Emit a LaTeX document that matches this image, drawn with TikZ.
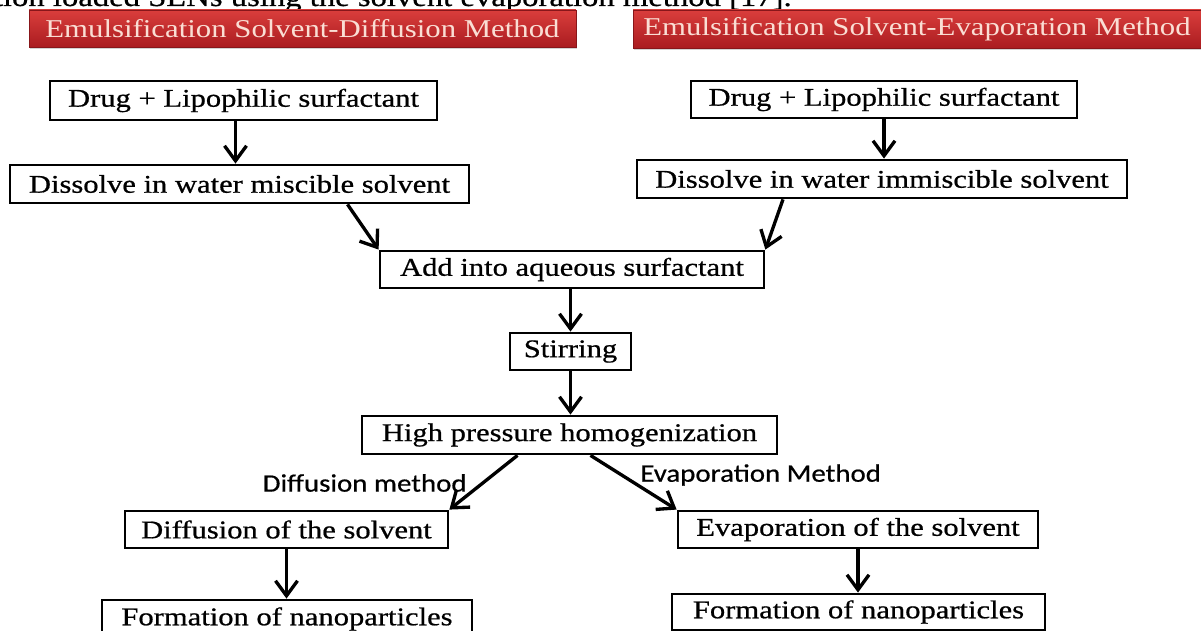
\documentclass[tikz,border=0pt]{standalone}
\usepackage{fontspec}
\setmainfont{Liberation Serif}
\newfontfamily\boxfont[FakeStretch=1.2, FakeBold=0.7]{Liberation Serif}
\newfontfamily\headfont[FakeStretch=1.2]{Liberation Serif}
\newfontfamily\lblfont[FakeStretch=1.15, FakeBold=0.6]{Carlito}
\usetikzlibrary{arrows.meta, calc, shadows}

\definecolor{headtop}{RGB}{218,62,60}
\definecolor{headbot}{RGB}{170,28,32}
\definecolor{headtext}{RGB}{250,222,212}

\tikzset{
    flowbox/.style={draw, line width=1.6pt, fill=white, inner sep=0pt,
        font=\boxfont\fontsize{14.5}{17}\selectfont},
    headbox/.style={top color=headtop, bottom color=headbot, draw=headbot!80!black,
        line width=0.4pt, inner sep=0pt, text=headtext,
        font=\headfont\fontsize{14.6}{17}\selectfont,
        drop shadow={shadow xshift=0.6pt, shadow yshift=-1.2pt, opacity=0.35}},
    flowarrow/.style={->, line width=1.9pt},
    methodlabel/.style={font=\lblfont\fontsize{14.3}{16}\selectfont, inner sep=0pt}
}

\begin{document}
\begin{tikzpicture}[
    % one unit = one pixel of the 1201 x 631 layout, y grows downwards
    x={(0.02cm,0cm)},
    y={(0cm,-0.02cm)},
    >={Straight Barb[length=3mm, width=4.4mm]}
]
    \path[use as bounding box] (0,0) rectangle (1201,631);

    % --- Caption line cut by the top edge ---
    \begin{scope}
        \clip (0,0) rectangle (1201,631);
        \node[anchor=base east, inner sep=0pt, font=\boxfont\fontsize{15.5}{18}\selectfont]
            (caption) at (792,6) {ation loaded SLNs using the solvent evaporation method [17].};
    \end{scope}

    % --- Method headings ---
    \node[headbox, minimum width=10.94cm, minimum height=0.74cm] (headDiff) at (302.5,28.5)
        {Emulsification Solvent-Diffusion Method};
    \node[headbox, minimum width=11.36cm, minimum height=0.76cm] (headEvap) at (917,29)
        {Emulsification Solvent-Evaporation Method};

    % --- Steps ---
    \node[flowbox, minimum width=7.74cm, minimum height=0.78cm] (drugL) at (243.5,100.5) {Drug + Lipophilic surfactant};
    \node[flowbox, minimum width=9.18cm, minimum height=0.76cm] (dissolveL) at (239.5,184) {Dissolve in water miscible solvent};
    \node[flowbox, minimum width=7.72cm, minimum height=0.74cm] (drugR) at (884,99.5) {Drug + Lipophilic surfactant};
    \node[flowbox, minimum width=9.8cm, minimum height=0.76cm] (dissolveR) at (882,179) {Dissolve in water immiscible solvent};
    \node[flowbox, minimum width=7.68cm, minimum height=0.74cm] (aqueous) at (572,269.5) {Add into aqueous surfactant};
    \node[flowbox, minimum width=2.42cm, minimum height=0.74cm] (stirring) at (570.5,351.5) {Stirring};
    \node[flowbox, minimum width=8.3cm, minimum height=0.76cm] (homog) at (569.5,435) {High pressure homogenization};
    \node[flowbox, minimum width=6.46cm, minimum height=0.74cm] (diffSolv) at (286.5,529.5) {Diffusion of the solvent};
    \node[flowbox, minimum width=7.2cm, minimum height=0.74cm] (evapSolv) at (858,529.5) {Evaporation of the solvent};
    \node[flowbox, minimum width=7.4cm, minimum height=0.76cm] (nanoL) at (287,619) {Formation of nanoparticles};
    \node[flowbox, minimum width=7.46cm, minimum height=0.72cm] (nanoR) at (858.5,612) {Formation of nanoparticles};

    % --- Branch labels ---
    \node[methodlabel, anchor=east] (lblDiff) at (467,483) {Diffusion method};
    \node[methodlabel, anchor=west] (lblEvap) at (640,475) {Evaporation Method};

    % --- Arrows ---
    \draw[flowarrow] ($(drugL.south)+(-8,0)$) -- ($(drugL.south |- dissolveL.north)+(-8,0)$);
    \draw[flowarrow] (drugR.south) -- (drugR.south |- dissolveR.north);
    \draw[flowarrow] ($(dissolveL.south)+(108,0)$) -- (aqueous.north west);
    \draw[flowarrow] ($(dissolveR.south)+(-99,0)$) -- (aqueous.north east);
    \draw[flowarrow] (stirring.north |- aqueous.south) -- (stirring.north);
    \draw[flowarrow] (stirring.south) -- (stirring.south |- homog.north);
    \draw[flowarrow] ($(homog.south)+(-52,0)$) -- (diffSolv.north east);
    \draw[flowarrow] ($(homog.south)+(21,0)$) -- (evapSolv.north west);
    \draw[flowarrow] (diffSolv.south) -- (diffSolv.south |- nanoL.north);
    \draw[flowarrow] (evapSolv.south) -- (evapSolv.south |- nanoR.north);
\end{tikzpicture}
\end{document}
